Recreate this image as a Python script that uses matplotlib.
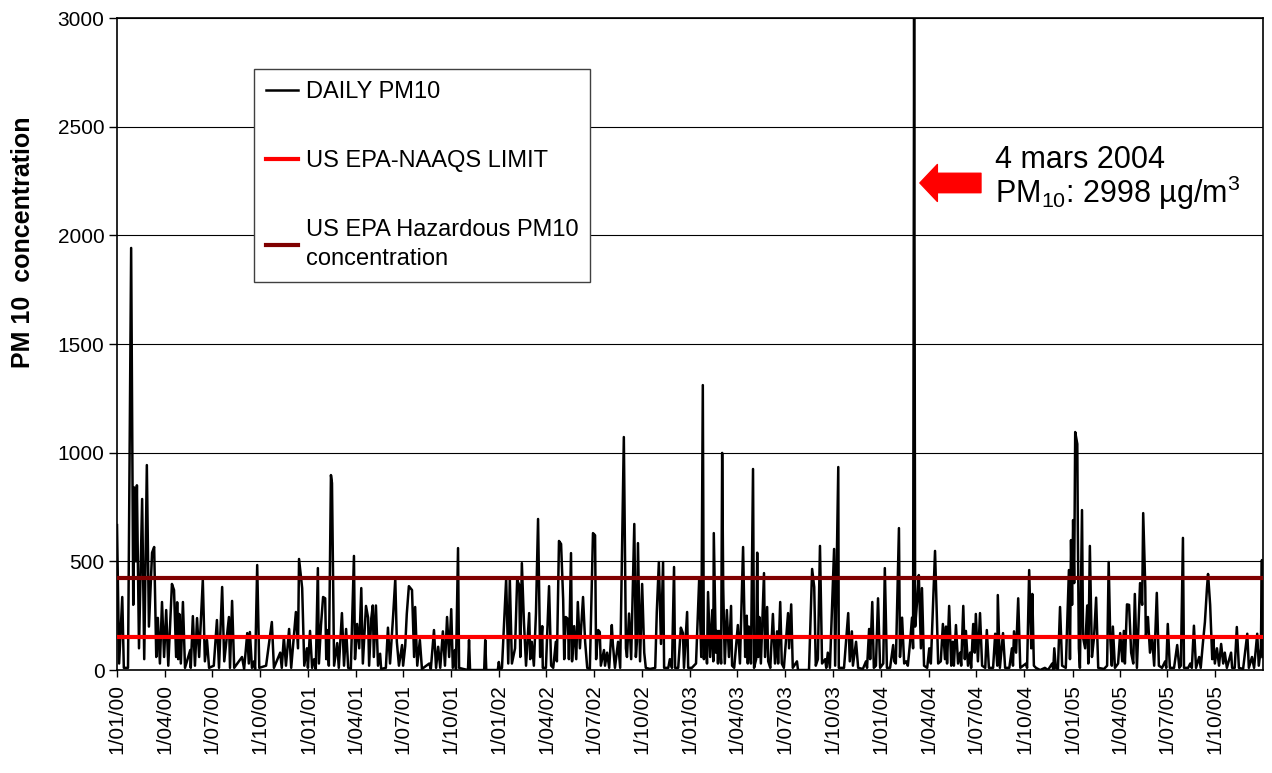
import numpy as np
import pandas as pd
import matplotlib
matplotlib.use('Agg')
import matplotlib.pyplot as plt

plt.rcParams['font.family'] = ['Liberation Sans', 'DejaVu Sans']
plt.rcParams['mathtext.fontset'] = 'custom'
plt.rcParams['mathtext.rm'] = 'Liberation Sans'
plt.rcParams['mathtext.it'] = 'Liberation Sans:italic'
plt.rcParams['mathtext.bf'] = 'Liberation Sans:bold'

# daily PM10 as (days since 1 Jan 2000, value)
start = pd.Timestamp('2000-01-01')
end = pd.Timestamp('2005-12-31')

pm_2000 = [(0, 667), (4, 30), (10, 336), (13, 10), (21, 10), (27, 1942), (31, 300), (33, 840),
           (36, 500), (38, 850), (42, 100), (48, 787), (52, 50), (57, 943), (61, 200), (67, 540),
           (71, 566), (75, 60), (78, 240), (82, 30), (86, 313), (90, 60), (94, 276), (98, 20),
           (105, 396), (109, 368), (113, 60), (115, 312), (117, 50), (119, 258), (122, 30),
           (126, 313), (130, 10), (140, 92), (141, 10), (145, 248), (149, 20), (153, 239),
           (157, 60), (164, 414), (168, 40), (172, 138), (176, 10), (185, 20), (191, 230),
           (195, 10), (201, 382), (205, 40), (214, 244), (216, 10), (220, 318), (224, 10),
           (239, 60), (243, 5), (249, 170), (252, 30), (254, 175), (258, 10), (262, 40), (264, 5),
           (268, 483), (272, 10), (285, 20), (296, 221), (300, 10), (312, 80), (315, 10),
           (319, 152), (323, 20), (329, 189), (333, 10), (342, 267), (346, 100), (348, 511),
           (354, 377), (358, 20), (363, 100), (365, 10)]

pm_2001 = [(369, 180), (373, 10), (377, 50), (380, 5), (384, 469), (386, 30), (390, 207),
           (394, 336), (398, 330), (400, 50), (402, 184), (405, 20), (409, 897), (411, 860),
           (415, 20), (421, 124), (424, 10), (430, 262), (434, 20), (438, 189), (442, 10),
           (447, 5), (453, 525), (455, 50), (459, 212), (463, 100), (467, 377), (470, 30),
           (476, 295), (480, 241), (482, 20), (486, 235), (489, 297), (491, 60), (495, 297),
           (499, 20), (503, 75), (505, 5), (514, 10), (518, 195), (522, 30), (528, 254),
           (532, 419), (535, 130), (539, 20), (545, 115), (547, 20), (551, 110), (554, 258),
           (558, 386), (564, 368), (568, 60), (570, 290), (574, 20), (579, 138), (583, 5),
           (597, 30), (600, 5), (606, 184), (610, 10), (614, 107), (618, 10), (623, 178),
           (627, 20), (631, 244), (635, 60), (639, 280), (642, 10), (646, 92), (648, 5),
           (652, 561), (654, 10), (662, 5), (671, 0), (673, 138), (675, 0), (702, 0), (704, 138),
           (706, 0), (728, 0), (730, 37)]

pm_2002 = [(732, 0), (736, 10), (744, 419), (748, 30), (751, 419), (755, 30), (761, 100),
           (765, 414), (769, 391), (771, 60), (774, 492), (778, 221), (782, 20), (788, 262),
           (790, 50), (793, 130), (797, 20), (801, 262), (805, 695), (809, 60), (813, 202),
           (814, 10), (820, 10), (826, 386), (830, 20), (834, 10), (839, 130), (841, 40),
           (845, 594), (849, 580), (853, 325), (855, 50), (858, 244), (862, 235), (864, 50),
           (868, 538), (870, 40), (874, 202), (878, 50), (881, 313), (885, 100), (891, 336),
           (895, 130), (899, 10), (904, 5), (910, 630), (914, 620), (916, 50), (920, 184),
           (923, 175), (925, 20), (931, 92), (933, 20), (937, 80), (941, 10), (946, 207),
           (948, 120), (952, 10), (958, 130), (962, 10), (969, 1072), (973, 100), (975, 60),
           (979, 260), (983, 50), (989, 672), (992, 60), (994, 130), (996, 584), (1000, 40),
           (1004, 396), (1008, 80), (1011, 10), (1019, 5), (1029, 10), (1032, 267), (1036, 497),
           (1040, 120), (1044, 497), (1046, 10), (1054, 10), (1057, 50), (1061, 10), (1065, 474),
           (1067, 10), (1073, 10), (1078, 195), (1082, 170), (1084, 10), (1090, 267), (1092, 10)]

pm_2003 = [(1099, 10), (1107, 30), (1113, 414), (1117, 60), (1120, 1311), (1122, 50), (1126, 140),
           (1128, 30), (1130, 359), (1134, 60), (1138, 276), (1140, 40), (1141, 630), (1145, 80),
           (1147, 180), (1149, 30), (1151, 180), (1155, 30), (1157, 999), (1159, 382), (1162, 30),
           (1166, 276), (1170, 60), (1174, 295), (1176, 20), (1180, 10), (1187, 207), (1191, 30),
           (1197, 566), (1201, 60), (1204, 250), (1206, 30), (1208, 200), (1212, 30), (1216, 925),
           (1218, 10), (1222, 50), (1224, 540), (1226, 60), (1228, 244), (1231, 30), (1237, 446),
           (1239, 60), (1243, 290), (1245, 40), (1249, 10), (1254, 258), (1258, 30), (1262, 178),
           (1264, 30), (1268, 313), (1271, 30), (1275, 10), (1283, 262), (1285, 100), (1289, 302),
           (1292, 10), (1300, 40), (1302, 0), (1323, 0), (1329, 465), (1333, 382), (1336, 20),
           (1340, 50), (1344, 571), (1348, 30), (1354, 50), (1356, 10), (1359, 80), (1363, 10),
           (1371, 557), (1373, 20), (1379, 934), (1380, 10), (1390, 10), (1398, 262), (1401, 40),
           (1405, 178), (1407, 20), (1413, 130), (1417, 10), (1426, 5), (1432, 40), (1434, 10),
           (1438, 189), (1440, 50), (1444, 313), (1447, 10), (1451, 20), (1455, 330), (1459, 10)]

pm_2004 = [(1465, 30), (1468, 469), (1472, 10), (1478, 10), (1484, 115), (1486, 40), (1489, 30),
           (1495, 653), (1497, 60), (1501, 241), (1505, 30), (1509, 40), (1512, 20), (1516, 120),
           (1520, 241), (1522, 100), (1524, 2998), (1526, 200), (1530, 325), (1533, 437),
           (1537, 100), (1539, 377), (1543, 20), (1549, 10), (1553, 100), (1556, 30), (1564, 548),
           (1568, 195), (1570, 30), (1575, 40), (1579, 212), (1583, 50), (1585, 200), (1587, 30),
           (1591, 295), (1595, 20), (1598, 130), (1600, 20), (1604, 207), (1608, 30), (1612, 80),
           (1614, 20), (1618, 295), (1621, 50), (1623, 180), (1627, 20), (1631, 80), (1633, 10),
           (1637, 212), (1640, 80), (1642, 258), (1646, 40), (1650, 262), (1654, 20), (1660, 10),
           (1663, 184), (1667, 10), (1675, 10), (1679, 167), (1683, 20), (1684, 345), (1688, 10),
           (1694, 170), (1698, 10), (1706, 10), (1711, 100), (1713, 20), (1715, 178), (1719, 80),
           (1723, 330), (1727, 10), (1738, 30), (1740, 10), (1744, 460), (1748, 100), (1750, 350),
           (1753, 20), (1757, 10), (1765, 0), (1774, 10), (1780, 0), (1788, 30), (1790, 0),
           (1792, 100), (1795, 10), (1799, 5), (1803, 290), (1807, 20), (1814, 10), (1820, 460),
           (1822, 50), (1824, 598), (1826, 300)]

pm_2005 = [(1828, 690), (1830, 400), (1832, 1095), (1836, 1040), (1837, 650), (1839, 100),
           (1841, 10), (1845, 736), (1847, 150), (1851, 100), (1855, 297), (1857, 30), (1860, 571),
           (1864, 60), (1868, 150), (1872, 333), (1876, 10), (1887, 5), (1893, 20), (1896, 497),
           (1899, 150), (1902, 20), (1904, 200), (1908, 10), (1914, 30), (1918, 170), (1922, 40),
           (1925, 180), (1927, 30), (1931, 302), (1935, 300), (1939, 80), (1943, 30), (1946, 350),
           (1950, 10), (1956, 400), (1960, 300), (1962, 722), (1966, 380), (1967, 150), (1971, 244),
           (1975, 80), (1979, 150), (1983, 20), (1988, 355), (1992, 20), (1998, 10), (2004, 40),
           (2006, 10), (2009, 212), (2013, 10), (2021, 10), (2027, 115), (2031, 10), (2034, 20),
           (2038, 608), (2040, 10), (2048, 10), (2052, 30), (2055, 10), (2059, 204), (2063, 10),
           (2069, 60), (2072, 10), (2076, 120), (2080, 221), (2084, 380), (2086, 442), (2090, 300),
           (2094, 50), (2096, 150), (2099, 30), (2103, 100), (2107, 20), (2111, 120), (2115, 30),
           (2118, 80), (2122, 10), (2130, 80), (2132, 10), (2137, 10), (2141, 198), (2145, 10),
           (2153, 5), (2161, 167), (2164, 10), (2170, 60), (2174, 10), (2180, 167), (2183, 20),
           (2187, 100), (2189, 506), (2190, 60)]

naaqs_limit = 150
hazardous_limit = 425
peak_date = pd.Timestamp('2004-03-04')
peak_value = 2998

records = pm_2000 + pm_2001 + pm_2002 + pm_2003 + pm_2004 + pm_2005
days = np.array([d for d, v in records])
pm10 = np.array([v for d, v in records])
dates = start + pd.to_timedelta(days, unit='D')

fig = plt.figure(figsize=(12.72, 7.73), dpi=100)
ax = fig.add_axes([0.092, 0.1332, 0.9009, 0.8435])

ax.plot(dates, pm10, color='black', lw=1.8, label='DAILY PM10', zorder=2)
ax.axhline(naaqs_limit, color='#ff0000', lw=3, label='US EPA-NAAQS LIMIT', zorder=3)
ax.axhline(hazardous_limit, color='#800000', lw=3,
           label='US EPA Hazardous PM10\nconcentration', zorder=3)

ax.set_xlim(start, end)
ax.set_ylim(0, 3000)
ax.set_yticks(np.arange(0, 3001, 500))
quarters = pd.date_range('2000-01-01', '2005-10-01', freq='QS')
ax.set_xticks(quarters)
ax.set_xticklabels([f"{q.day}/{q.month:02d}/{q.year % 100:02d}" for q in quarters], rotation=90)
ax.tick_params(axis='both', direction='out', labelsize=15, width=1)
ax.tick_params(axis='y', length=6, pad=3)
ax.tick_params(axis='x', length=5, pad=5)
ax.yaxis.grid(True, color='black', lw=0.8)
ax.set_axisbelow(True)
for s in ax.spines.values():
    s.set_linewidth(1.2)
    s.set_color('black')

ax.set_ylabel('PM 10  concentration', fontsize=18, fontweight='bold')
ax.yaxis.set_label_coords(-0.072, 0.656)

leg = ax.legend(loc='upper left', bbox_to_anchor=(0.1195, 0.9218), fontsize=17,
                frameon=True, fancybox=False, edgecolor='#404040', framealpha=1,
                borderaxespad=0, handlelength=1.35, handletextpad=0.35,
                labelspacing=2.0, borderpad=0.5)
leg.get_frame().set_linewidth(1.0)
for t in leg.get_texts():
    t.set_linespacing(1.4)

# annotation for the record day
ax.annotate('', xy=(peak_date + pd.Timedelta(days=11), 2241), xytext=(44, 0),
            textcoords='offset points',
            arrowprops=dict(arrowstyle='simple,head_length=0.9,head_width=1.9,tail_width=1.0',
                            mutation_scale=14, color='red', shrinkA=0, shrinkB=0))
ax.text(peak_date + pd.Timedelta(days=155), 2310, '4 mars 2004', fontsize=22, va='baseline')
ax.text(peak_date + pd.Timedelta(days=155), 2149, 'PM$_{10}$: %d µg/m$^{3}$' % peak_value,
        fontsize=22, va='baseline')

fig.savefig('out.png', dpi=100)
